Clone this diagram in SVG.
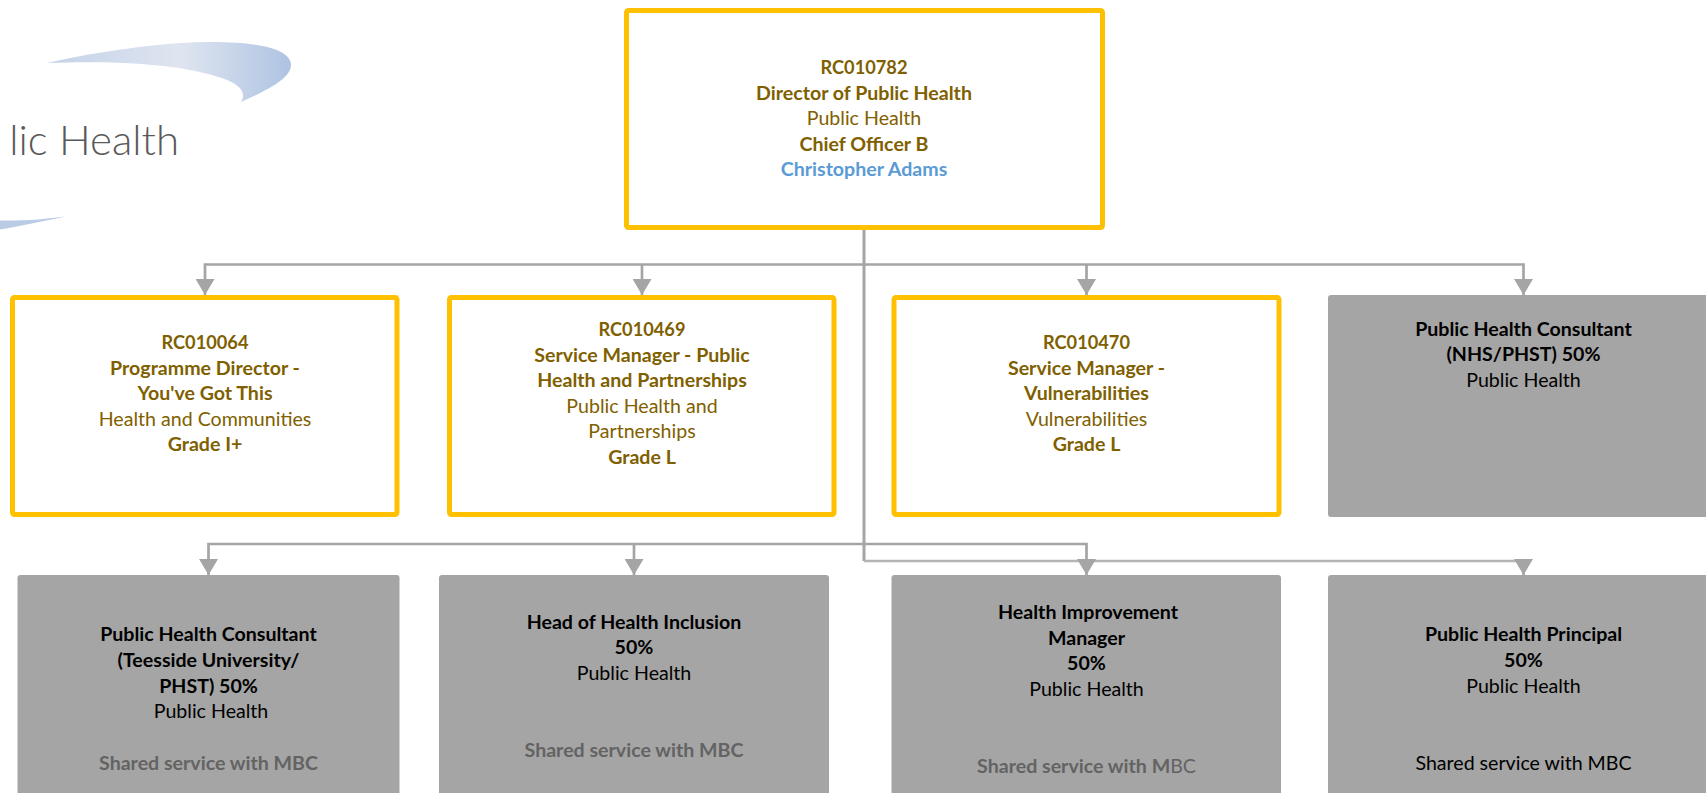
<svg xmlns="http://www.w3.org/2000/svg" width="1706" height="793" viewBox="0 0 1706 793">
<style>
text{font-family:"Lato","Liberation Sans",sans-serif;font-size:19.6px;text-anchor:middle}
.b{font-weight:700}
.g{fill:#7F6000}
.k{fill:#000}
.s{fill:#636363;font-weight:700}
.o{fill:#fff;stroke:#FFC000;stroke-width:5}
.f{fill:#A5A5A5}
.c{fill:none;stroke:#A5A5A5;stroke-width:2.700}
.t{fill:none;stroke:#A5A5A5;stroke-width:3}
.u{fill:none;stroke:#B4B4B4;stroke-width:2.700}
</style>
<defs>
<linearGradient id="sw" gradientUnits="userSpaceOnUse" x1="47" y1="0" x2="291" y2="0">
<stop offset="0" stop-color="#C4D2E8"/><stop offset="0.55" stop-color="#DFE5F0"/><stop offset="1" stop-color="#AEC3E2"/>
</linearGradient>
<marker id="ah" markerUnits="userSpaceOnUse" markerWidth="16" markerHeight="19" refX="16" refY="9.500" orient="auto" viewBox="0 0 16 19"><path d="M0 0L16 9.500L0 19Z" fill="#A5A5A5"/></marker>
</defs>
<g id="logo">
<path d="M47 63C110 49 170 42 212 42C262 42 291 50 291 65C291 78 268 90 241 102C247 92 240 83 215 76C170 62 100 61 47 63Z" fill="url(#sw)"/>
<path d="M0 220.500C25 221 45 219 66 216.500C40 222 20 226 0 229.500Z" fill="#B9CBE5"/>
<text x="179" y="155" style="font-size:42px;text-anchor:end;fill:#595959;font-weight:300">lic Health</text>
</g>
<g id="connectors">
<path class="t" d="M864 230V561"/>
<path class="u" d="M864 561H1523.500"/>
<path class="c" d="M1523.500 561V575" marker-end="url(#ah)"/>
<path class="c" d="M864 264.500H205V295" marker-end="url(#ah)"/>
<path class="c" d="M642 264.500V295" marker-end="url(#ah)"/>
<path class="c" d="M864 264.500H1523.500V295" marker-end="url(#ah)"/>
<path class="c" d="M1086.500 264.500V295" marker-end="url(#ah)"/>
<path class="c" d="M864 544H208.500V575" marker-end="url(#ah)"/>
<path class="c" d="M634 544V575" marker-end="url(#ah)"/>
<path class="c" d="M864 544H1086.500V575" marker-end="url(#ah)"/>
</g>
<g id="n-director"><rect class="o" x="626.500" y="10.500" width="476" height="217" rx="2"/>
<text class="b g" x="864" y="74" textLength="87" lengthAdjust="spacingAndGlyphs">RC010782</text><text class="b g" x="864" y="100">Director of Public Health</text><text class="g" x="864" y="125">Public Health</text><text class="b g" x="864" y="150.700">Chief Officer B</text><text class="b" x="864" y="175.700" fill="#5B9BD5">Christopher Adams</text></g>
<g id="n-programme"><rect class="o" x="12.500" y="297.500" width="384.500" height="217" rx="2"/>
<text class="b g" x="205" y="349" textLength="87" lengthAdjust="spacingAndGlyphs">RC010064</text><text class="b g" x="205" y="374.500">Programme Director -</text><text class="b g" x="205" y="400">You've Got This</text><text class="g" x="205" y="425.500">Health and Communities</text><text class="b g" x="205" y="450.500">Grade I+</text></g>
<g id="n-sm-health"><rect class="o" x="449.500" y="297.500" width="384.500" height="217" rx="2"/>
<text class="b g" x="642" y="336" textLength="87" lengthAdjust="spacingAndGlyphs">RC010469</text><text class="b g" x="642" y="361.500">Service Manager - Public</text><text class="b g" x="642" y="387">Health and Partnerships</text><text class="g" x="642" y="412.500">Public Health and</text><text class="g" x="642" y="438">Partnerships</text><text class="b g" x="642" y="463.500">Grade L</text></g>
<g id="n-sm-vuln"><rect class="o" x="894" y="297.500" width="385" height="217" rx="2"/>
<text class="b g" x="1086.500" y="349" textLength="87" lengthAdjust="spacingAndGlyphs">RC010470</text><text class="b g" x="1086.500" y="374.500">Service Manager -</text><text class="b g" x="1086.500" y="400">Vulnerabilities</text><text class="g" x="1086.500" y="425.500">Vulnerabilities</text><text class="b g" x="1086.500" y="450.500">Grade L</text></g>
<g id="n-consultant-nhs"><rect class="f" x="1328" y="295" width="400" height="222" rx="3"/>
<text class="b k" x="1523.500" y="336">Public Health Consultant</text><text class="b k" x="1523.500" y="361">(NHS/PHST) 50%</text><text class="k" x="1523.500" y="386.700">Public Health</text></g>
<g id="n-consultant-tees"><rect class="f" x="17.500" y="575" width="382" height="240" rx="3"/>
<text class="b k" x="208.500" y="640.700">Public Health Consultant</text><text class="b k" x="208.500" y="666.700">(Teesside University/</text><text class="b k" x="208.500" y="692.700">PHST) 50%</text><text class="k" x="211" y="717.700">Public Health</text><text class="s" x="208.500" y="770">Shared service with MBC</text></g>
<g id="n-inclusion"><rect class="f" x="439" y="575" width="390" height="240" rx="3"/>
<text class="b k" x="634" y="629">Head of Health Inclusion</text><text class="b k" x="634" y="653.700">50%</text><text class="k" x="634" y="680">Public Health</text><text class="s" x="634" y="756.700">Shared service with MBC</text></g>
<g id="n-improvement"><rect class="f" x="891.500" y="575" width="389.500" height="240" rx="3"/>
<text class="b k" x="1088" y="619.300">Health Improvement</text><text class="b k" x="1086.500" y="645">Manager</text><text class="b k" x="1086.500" y="670">50%</text><text class="k" x="1086.500" y="696">Public Health</text><text class="s" x="1086.500" y="772.700">Shared service with M<tspan font-weight="400">BC</tspan></text></g>
<g id="n-principal"><rect class="f" x="1328" y="575" width="400" height="240" rx="3"/>
<text class="b k" x="1523.500" y="640.700">Public Health Principal</text><text class="b k" x="1523.500" y="666.700">50%</text><text class="k" x="1523.500" y="692.700">Public Health</text><text class="k" x="1523.500" y="770">Shared service with MBC</text></g>
</svg>
